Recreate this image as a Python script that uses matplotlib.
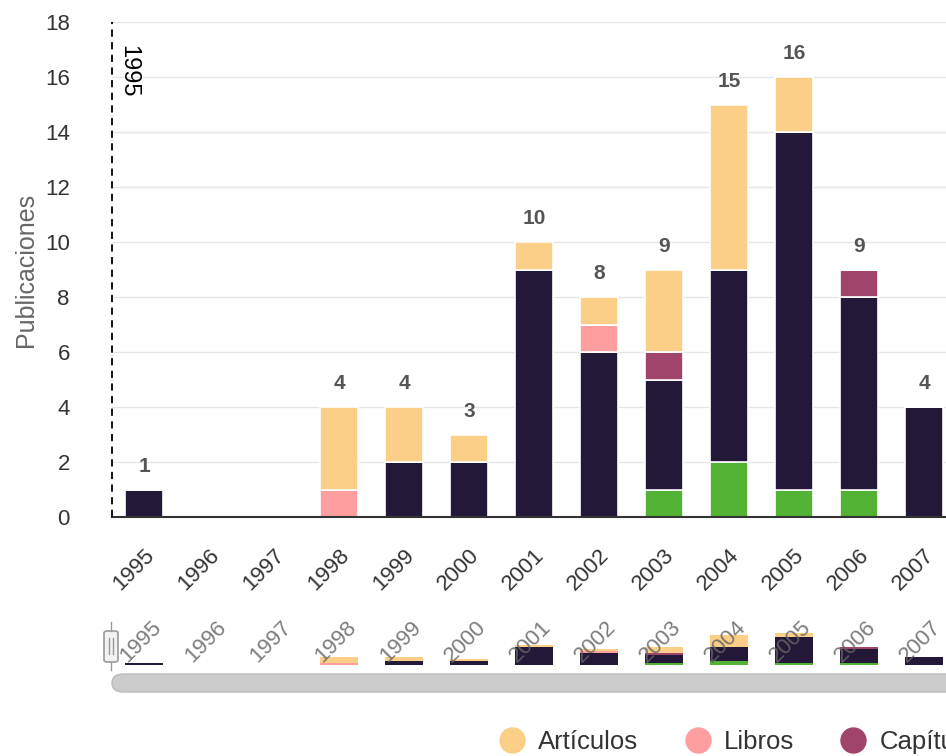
import matplotlib.pyplot as plt
import numpy as np
from matplotlib.lines import Line2D
from matplotlib.patches import FancyBboxPatch
from matplotlib.transforms import blended_transform_factory

plt.rcParams['font.family'] = ['Liberation Sans', 'DejaVu Sans']

years = ['1995', '1996', '1997', '1998', '1999', '2000', '2001',
         '2002', '2003', '2004', '2005', '2006', '2007']
# apilado de abajo hacia arriba
tesis     = [0, 0, 0, 0, 0, 0, 0, 0, 1, 2, 1, 1, 0]
ponencias = [1, 0, 0, 0, 2, 2, 9, 6, 4, 7, 13, 7, 4]
capitulos = [0, 0, 0, 0, 0, 0, 0, 0, 1, 0, 0, 1, 0]
libros    = [0, 0, 0, 1, 0, 0, 0, 1, 0, 0, 0, 0, 0]
articulos = [0, 0, 0, 3, 2, 1, 1, 1, 3, 6, 2, 0, 0]

series = [
    ('Tesis', tesis, '#52b233'),
    ('Ponencias', ponencias, '#241838'),
    ('Capítulos', capitulos, '#a0446c'),
    ('Libros', libros, '#ff9e9e'),
    ('Artículos', articulos, '#fccf88'),
]

x = np.arange(len(years))
totals = np.sum([s[1] for s in series], axis=0)

fig = plt.figure(figsize=(9.46, 7.56), dpi=100)
W, H = 946, 756
x_right = (W - 111.5) / 65 - 0.5

ax = fig.add_axes([111.5 / W, 1 - 517 / H, 1 - 111.5 / W, (517 - 22) / H])
bottom = np.zeros(len(years))
for name, vals, col in series:
    ax.bar(x, vals, width=0.58, bottom=bottom, color=col,
           edgecolor='white', linewidth=1.2, zorder=3)
    bottom += np.array(vals)

for i, t in enumerate(totals):
    if t > 0:
        ax.annotate(str(t), (x[i], t), xytext=(0, 10), textcoords='offset points',
                    ha='center', va='bottom', fontsize=15, fontweight='bold',
                    color='#555555')

ax.set_xlim(-0.5, x_right)
ax.set_ylim(0, 18)
ax.set_yticks(range(0, 19, 2))
ax.grid(axis='y', color='#e6e6e6', linewidth=1, zorder=0)
for s in ['top', 'right', 'left']:
    ax.spines[s].set_visible(False)
ax.spines['bottom'].set_color('#333333')
ax.spines['bottom'].set_linewidth(1.5)
ax.spines['bottom'].set_zorder(4)
ax.tick_params(axis='y', length=0, labelsize=16, labelcolor='#333333', pad=30)
ax.tick_params(axis='x', length=0, labelsize=16, labelcolor='#333333', pad=20)
ax.set_xticks(x)
ax.set_xticklabels(years, rotation=45, ha='right', rotation_mode='anchor')
ax.set_ylabel('Publicaciones', fontsize=18, color='#666666', labelpad=5)

ax.axvline(-0.5, color='black', linestyle=(0, (4, 3)), linewidth=1.3,
           zorder=5, clip_on=False)
ax.text(-0.25, 16.2, '1995', rotation=270, ha='center', va='center',
        fontsize=17, color='black')

# navegador
nav = fig.add_axes([111.5 / W, 1 - 665 / H, 1 - 111.5 / W, 32 / H])
bottom = np.zeros(len(years))
for name, vals, col in series:
    nav.bar(x, vals, width=0.58, bottom=bottom, color=col, linewidth=0)
    bottom += np.array(vals)
nav.set_xlim(-0.5, x_right)
nav.set_ylim(0, 16)
nav.axis('off')
tr = blended_transform_factory(nav.transData, nav.transAxes)
for i, y in enumerate(years):
    nav.text(x[i] - 0.05, 0.72, y, rotation=45, ha='center', va='center',
             fontsize=16, color='#666666', alpha=0.85, transform=tr, zorder=5)

fig.patches.append(FancyBboxPatch((112 / W, 1 - 692 / H), 860 / W, 18 / H,
                                  boxstyle='round,pad=0,rounding_size=0.012',
                                  transform=fig.transFigure, facecolor='#cccccc',
                                  edgecolor='#bbbbbb', linewidth=1))
fig.patches.append(FancyBboxPatch((104 / W, 1 - 662 / H), 14 / W, 31 / H,
                                  boxstyle='round,pad=0,rounding_size=0.003',
                                  transform=fig.transFigure, facecolor='#f2f2f2',
                                  edgecolor='#999999', linewidth=1.2))
for lx in (109, 113):
    fig.add_artist(Line2D([lx / W, lx / W], [1 - 654 / H, 1 - 638 / H],
                          color='#999999', linewidth=1))
fig.add_artist(Line2D([111 / W, 111 / W], [1 - 670 / H, 1 - 662 / H],
                      color='#999999', linewidth=1))
fig.add_artist(Line2D([111 / W, 111 / W], [1 - 631 / H, 1 - 622 / H],
                      color='#999999', linewidth=1))

handles = [Line2D([], [], marker='o', linestyle='', markersize=18,
                  markerfacecolor=c, markeredgecolor=c, label=n)
           for n, v, c in reversed(series)]
fig.legend(handles=handles, loc='center left', bbox_to_anchor=(463 / W, 1 - 742 / H),
           ncol=5, frameon=False, fontsize=18.5, handletextpad=0.03,
           columnspacing=1.3, labelcolor='#333333')

fig.savefig('out.png', dpi=100)
